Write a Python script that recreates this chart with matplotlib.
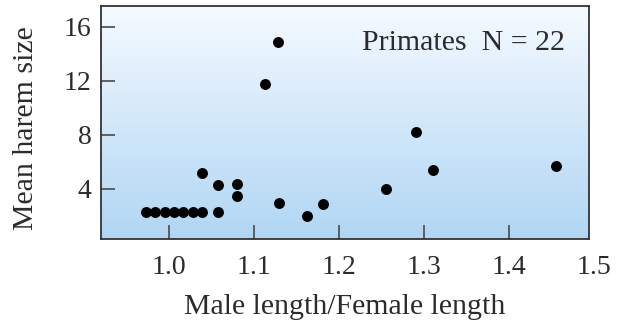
import numpy as np
import matplotlib
matplotlib.use("Agg")
import matplotlib.pyplot as plt
from matplotlib.colors import LinearSegmentedColormap
from matplotlib.transforms import ScaledTranslation

# Sexual size dimorphism vs. mean harem size in primates
length_ratio = [0.973, 0.984, 0.995, 1.006, 1.017, 1.028, 1.039,
                1.039, 1.058, 1.058, 1.080, 1.080,
                1.113, 1.128, 1.129, 1.162, 1.181,
                1.255, 1.290, 1.311, 1.455]
harem_size = [2.27, 2.27, 2.27, 2.27, 2.27, 2.27, 2.27,
              5.14, 4.27, 2.27, 4.32, 3.46,
              11.76, 14.9, 2.96, 1.98, 2.89,
              3.98, 8.2, 5.39, 5.68]
x_ticks = [1.0, 1.1, 1.2, 1.3, 1.4, 1.5]
y_ticks = [4, 8, 12, 16]
annotation = "Primates  N = 22"

plt.rcParams['font.family'] = ['Liberation Serif', 'DejaVu Serif']

TICK_FS = 20
LABEL_FS = 21.5
TEXT_COLOR = "#2b2b2b"
X_PAD = 11.5

fig = plt.figure(figsize=(6.27, 3.22), dpi=100)
ax = fig.add_axes([101 / 627, 1 - 239 / 322, 488 / 627, 233 / 322])

xmin, xmax = 0.92, 1.494
ymin, ymax = 0.27, 17.53

# vertical background gradient
grad_cmap = LinearSegmentedColormap.from_list("bg", ["#b0d6f4", "#f5faff"])
ax.imshow(np.linspace(0, 1, 256).reshape(-1, 1), cmap=grad_cmap, origin="lower",
          aspect="auto", extent=[xmin, xmax, ymin, ymax], zorder=0)

ax.scatter(length_ratio, harem_size, s=62, color="black", zorder=3, linewidths=0)

ax.set_xlim(xmin, xmax)
ax.set_ylim(ymin, ymax)

ax.set_xticks([t for t in x_ticks if t <= xmax])
ax.set_xticklabels([f"{t:.1f}" for t in x_ticks if t <= xmax])
ax.set_yticks(y_ticks)
ax.set_yticklabels([str(t) for t in y_ticks])

ax.tick_params(direction="in", length=10, width=1.3, color="#555555",
               labelsize=TICK_FS, labelcolor=TEXT_COLOR)
ax.tick_params(axis="x", pad=X_PAD)
ax.tick_params(axis="y", pad=7)

# last x label sits just past the frame edge
offset = ScaledTranslation(0, -X_PAD / 72, fig.dpi_scale_trans)
for t in x_ticks:
    if t > xmax:
        ax.text(t, 0, f"{t:.1f}", transform=ax.get_xaxis_transform() + offset,
                ha="center", va="top", fontsize=TICK_FS, color=TEXT_COLOR, clip_on=False)

for sp in ax.spines.values():
    sp.set_color("#333333")
    sp.set_linewidth(1.3)

ax.set_xlabel("Male length/Female length", fontsize=LABEL_FS, color=TEXT_COLOR, labelpad=10)
ax.set_ylabel("Mean harem size", fontsize=LABEL_FS, color=TEXT_COLOR)
ax.yaxis.set_label_coords(-0.127, 0.475)

ax.text(0.951, 0.811, annotation, transform=ax.transAxes, ha="right", va="baseline",
        fontsize=LABEL_FS, color=TEXT_COLOR)

fig.savefig("out.png", dpi=100)
